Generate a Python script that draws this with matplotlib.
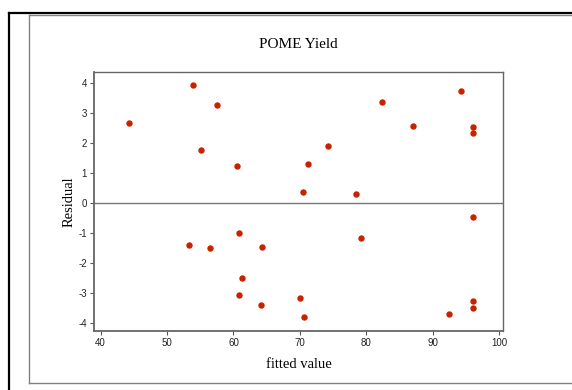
import matplotlib
matplotlib.use("Agg")
import matplotlib.pyplot as plt
from matplotlib.lines import Line2D

plt.rcParams['axes.unicode_minus'] = False

fitted = [44.2, 53.95, 57.56, 55.15, 60.57, 71.17, 70.47, 82.32, 94.22, 87.03,
          96.07, 96.07, 74.28, 78.45,
          96.07, 53.3, 56.4, 60.83, 64.25, 61.28, 60.83, 64.14, 69.97, 70.62,
          79.16, 92.5, 96.07, 96.07]
residual = [2.67, 3.91, 3.25, 1.76, 1.23, 1.30, 0.37, 3.37, 3.72, 2.57,
            2.54, 2.32, 1.89, 0.30,
            -0.47, -1.40, -1.50, -0.99, -1.46, -2.49, -3.07, -3.38, -3.16, -3.80,
            -1.17, -3.70, -3.26, -3.48]
xticks = [40, 50, 60, 70, 80, 90, 100]
yticks = [-4, -3, -2, -1, 0, 1, 2, 3, 4]

W, H = 572, 390
fig = plt.figure(figsize=(W / 100, H / 100), dpi=100)

# outer frames
def fl(x0, y0, x1, y1, color, lw):
    fig.add_artist(Line2D([x0 / W, x1 / W], [1 - y0 / H, 1 - y1 / H],
                          color=color, lw=lw, transform=fig.transFigure))

fl(8.5, 12.7, 572, 12.7, 'black', 1.6)
fl(8.5, 12.7, 8.5, 390, 'black', 1.6)
fl(29, 15, 572, 15, '#808080', 1.0)
fl(29, 15, 29, 383.3, '#808080', 1.0)
fl(29, 383.3, 572, 383.3, '#808080', 1.0)

ax = fig.add_axes([93.7 / W, 1 - 330.7 / H, (503.3 - 93.7) / W, (330.7 - 72) / H])
ax.set_xlim(38.95, 100.65)
ax.set_ylim(-4.245, 4.355)

ax.axhline(0, color='#777777', lw=1.0, zorder=1)
ax.plot(fitted, residual, 'o', color='#c82200', markersize=4.6,
        markeredgewidth=0, zorder=3)

for s in ax.spines.values():
    s.set_color('#666666')
    s.set_linewidth(1.0)
ax.spines['left'].set_linewidth(1.3)
ax.spines['bottom'].set_linewidth(1.3)

ax.set_xticks(xticks)
ax.set_yticks(yticks)
ax.set_xticklabels([str(v) for v in xticks])
ax.set_yticklabels([str(v) for v in yticks])
ax.tick_params(axis='both', direction='out', length=3, width=0.8, color='#555555',
               labelsize=7, pad=2, labelcolor='#222222')
for lab in ax.get_xticklabels() + ax.get_yticklabels():
    lab.set_fontfamily('Liberation Sans')

fig.text(298.5 / W, 1 - 44.5 / H, 'POME Yield', ha='center', va='center',
         fontsize=11, family='Liberation Serif')
ax.set_xlabel('fitted value', fontsize=10.5, family='Liberation Serif', labelpad=7.5)
ax.set_ylabel('Residual', fontsize=10.5, family='Liberation Serif', labelpad=1.5)

fig.savefig('out.png', dpi=100)
